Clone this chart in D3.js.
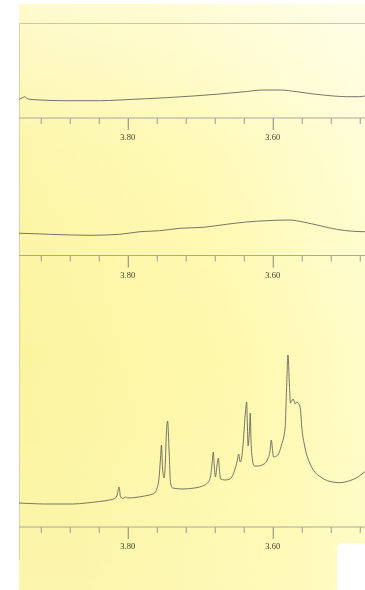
<!DOCTYPE html>
<html>
<head>
<meta charset="utf-8">
<script src="https://cdn.jsdelivr.net/npm/d3@7"></script>
<style>
  html, body { margin: 0; padding: 0; background: #fff; overflow: hidden; }
  svg { display: block; }
</style>
</head>
<body>
<svg id="chart" width="365" height="590"></svg>
<script>
// Chemical-shift axis (ppm), shared by all three traces
const shiftDomain = [3.95, 3.45];
const tickValues = [3.92, 3.88, 3.84, 3.80, 3.76, 3.72, 3.68, 3.64, 3.60, 3.56, 3.52, 3.48];
const tickLabels = ["3.80", "3.60"];

// Trace 1 (top): broad hump
const shift1 = [3.950, 3.949, 3.946, 3.942, 3.939, 3.935, 3.921, 3.885, 3.839, 3.811, 3.783, 3.747,
                3.710, 3.678, 3.659, 3.636, 3.613, 3.590, 3.567, 3.544, 3.521, 3.498, 3.480, 3.473];
const intensity1 = [3, 3, 4, 5.3, 3.5, 2.7, 2, 1.3, 1.3, 2, 3, 4.3,
                    6, 7.7, 9, 10.5, 12, 12, 10.3, 8, 6.3, 5.3, 5.3, 6];

// Trace 2 (middle): broad hump
const shift2 = [3.950, 3.949, 3.908, 3.852, 3.811, 3.783, 3.756, 3.728, 3.696, 3.664, 3.636,
                3.609, 3.577, 3.558, 3.535, 3.512, 3.489, 3.473];
const intensity2 = [3.7, 3.7, 2.7, 1.7, 2.7, 5.3, 6.3, 8.7, 9.7, 12.7, 15,
                    16.3, 17, 15, 11.3, 7.7, 5.7, 5.3];

// Trace 3 (bottom): resolved multiplets
const shift3 = [3.950, 3.935, 3.915, 3.894, 3.876, 3.857, 3.839, 3.825, 3.818, 3.815, 3.812, 3.810,
                3.807, 3.803, 3.800, 3.790, 3.777, 3.770, 3.763, 3.760, 3.757, 3.755, 3.7535, 3.752,
                3.750, 3.748, 3.747, 3.745, 3.743, 3.741, 3.738, 3.724, 3.708, 3.701, 3.690, 3.686,
                3.6835, 3.682, 3.6805, 3.679, 3.677, 3.675, 3.6735, 3.672, 3.666, 3.659, 3.652, 3.649,
                3.647, 3.645, 3.643, 3.641, 3.638, 3.636, 3.635, 3.634, 3.632, 3.631, 3.630, 3.628,
                3.6255, 3.621, 3.612, 3.607, 3.604, 3.602, 3.600, 3.599, 3.593, 3.588, 3.583, 3.581,
                3.579, 3.577, 3.5756, 3.574, 3.572, 3.570, 3.569, 3.567, 3.565, 3.562, 3.560, 3.556,
                3.549, 3.542, 3.534, 3.521, 3.508, 3.494, 3.483, 3.473, 3.465];
const intensity3 = [2, 1.5, 1, 1, 1, 2, 3.5, 5, 6.5, 9, 18, 8.5,
                    6.5, 8, 7, 7.5, 9, 10, 12, 16, 26, 45, 60, 37,
                    27, 45, 67, 84, 55, 22, 17, 16, 17, 18, 22, 28,
                    43, 53, 37, 28, 39, 47, 35, 26, 25, 26, 36, 44,
                    51, 43, 47, 60, 90, 103, 80, 59, 77, 92, 65, 45,
                    39, 39, 41, 46, 53, 65, 53, 48, 50, 60, 77, 115,
                    150, 120, 102, 104, 106, 103, 101, 103, 102, 97, 78, 59,
                    42, 33, 28, 23.5, 22.3, 24.3, 27.7, 33.3, 38];

const panels = [
  { shift: shift1, intensity: intensity1, axisY: 118, baseY: 102 },
  { shift: shift2, intensity: intensity2, axisY: 255.5, baseY: 237 },
  { shift: shift3, intensity: intensity3, axisY: 527, baseY: 505 }
];

const W = 365, H = 590;
const plotLeft = 19, plotTop = 4;
const svg = d3.select("#chart");
const defs = svg.append("defs");

// Pale yellow background wash, lighter towards the top and right
const grad = defs.append("linearGradient").attr("id", "wash")
  .attr("x1", "0%").attr("y1", "60%").attr("x2", "100%").attr("y2", "20%");
grad.append("stop").attr("offset", "0%").attr("stop-color", "#fbf49e");
grad.append("stop").attr("offset", "55%").attr("stop-color", "#fff9ae");
grad.append("stop").attr("offset", "100%").attr("stop-color", "#fffdd2");

const haze = defs.append("linearGradient").attr("id", "haze")
  .attr("x1", "0%").attr("y1", "0%").attr("x2", "0%").attr("y2", "100%");
haze.append("stop").attr("offset", "0%").attr("stop-color", "#ffffff").attr("stop-opacity", 0.45);
haze.append("stop").attr("offset", "25%").attr("stop-color", "#ffffff").attr("stop-opacity", 0.1);
haze.append("stop").attr("offset", "60%").attr("stop-color", "#ffffff").attr("stop-opacity", 0);
haze.append("stop").attr("offset", "100%").attr("stop-color", "#ffffff").attr("stop-opacity", 0.15);

// Grey-scale text rendering for the shift labels
const flat = defs.append("filter").attr("id", "flatText")
  .attr("x", "-10%").attr("y", "-10%").attr("width", "120%").attr("height", "120%");
flat.append("feOffset").attr("dx", 0).attr("dy", 0);

svg.append("rect").attr("x", plotLeft).attr("y", plotTop)
  .attr("width", W - plotLeft).attr("height", H - plotTop)
  .attr("fill", "url(#wash)");
svg.append("rect").attr("x", plotLeft).attr("y", plotTop)
  .attr("width", W - plotLeft).attr("height", H - plotTop)
  .attr("fill", "url(#haze)");

const clip = defs.append("clipPath").attr("id", "plotClip");
clip.append("rect").attr("x", plotLeft).attr("y", 0).attr("width", W - plotLeft).attr("height", H);

// Frame: top rule and left edge
svg.append("line").attr("x1", plotLeft).attr("x2", W).attr("y1", 23.5).attr("y2", 23.5)
  .attr("stroke", "#cdcaa2").attr("stroke-width", 1);
svg.append("line").attr("x1", plotLeft + 0.5).attr("x2", plotLeft + 0.5).attr("y1", 23).attr("y2", 560)
  .attr("stroke", "#d8d4aa").attr("stroke-width", 1);

const x = d3.scaleLinear().domain(shiftDomain).range([19, 381.5]);

panels.forEach(p => {
  const y = d3.scaleLinear().domain([0, 150]).range([p.baseY, p.baseY - 150]);
  const pts = p.shift.map((s, i) => [s, p.intensity[i]]);
  const line = d3.line().x(d => x(d[0])).y(d => y(d[1])).curve(d3.curveMonotoneX);

  svg.append("path")
    .attr("clip-path", "url(#plotClip)")
    .attr("d", line(pts))
    .attr("fill", "none")
    .attr("stroke", "#666660")
    .attr("stroke-width", 0.9)
    .attr("stroke-linejoin", "round");

  // Shift axis along the bottom of each trace
  const axis = d3.axisBottom(x)
    .tickValues(tickValues)
    .tickSize(6)
    .tickFormat(() => "");
  const g = svg.append("g")
    .attr("transform", `translate(0,${p.axisY})`)
    .attr("clip-path", "url(#plotClip)")
    .call(axis);
  g.select(".domain").remove();
  g.selectAll(".tick line").attr("stroke", "#9a9a90").attr("stroke-width", 1);
  g.selectAll(".tick")
    .filter(d => tickLabels.includes(d.toFixed(2)))
    .select("line").attr("y2", 12).attr("stroke", "#85857c");

  svg.append("line").attr("x1", plotLeft).attr("x2", W)
    .attr("y1", p.axisY).attr("y2", p.axisY)
    .attr("stroke", "#a8a89c").attr("stroke-width", 1);

  svg.append("g").attr("filter", "url(#flatText)").selectAll("text")
    .data(tickLabels)
    .join("text")
    .attr("x", d => x(+d))
    .attr("y", p.axisY + 22)
    .attr("text-anchor", "middle")
    .attr("font-family", "'Liberation Serif', 'DejaVu Serif', serif")
    .attr("font-size", 8.5)
    .attr("fill", "#3c3c36")
    .text(d => d);
});

// Blank corner patch at the lower right
svg.append("rect").attr("x", 337).attr("y", 543).attr("width", 40).attr("height", 60)
  .attr("rx", 6).attr("fill", "#ffffff");
</script>
</body>
</html>
